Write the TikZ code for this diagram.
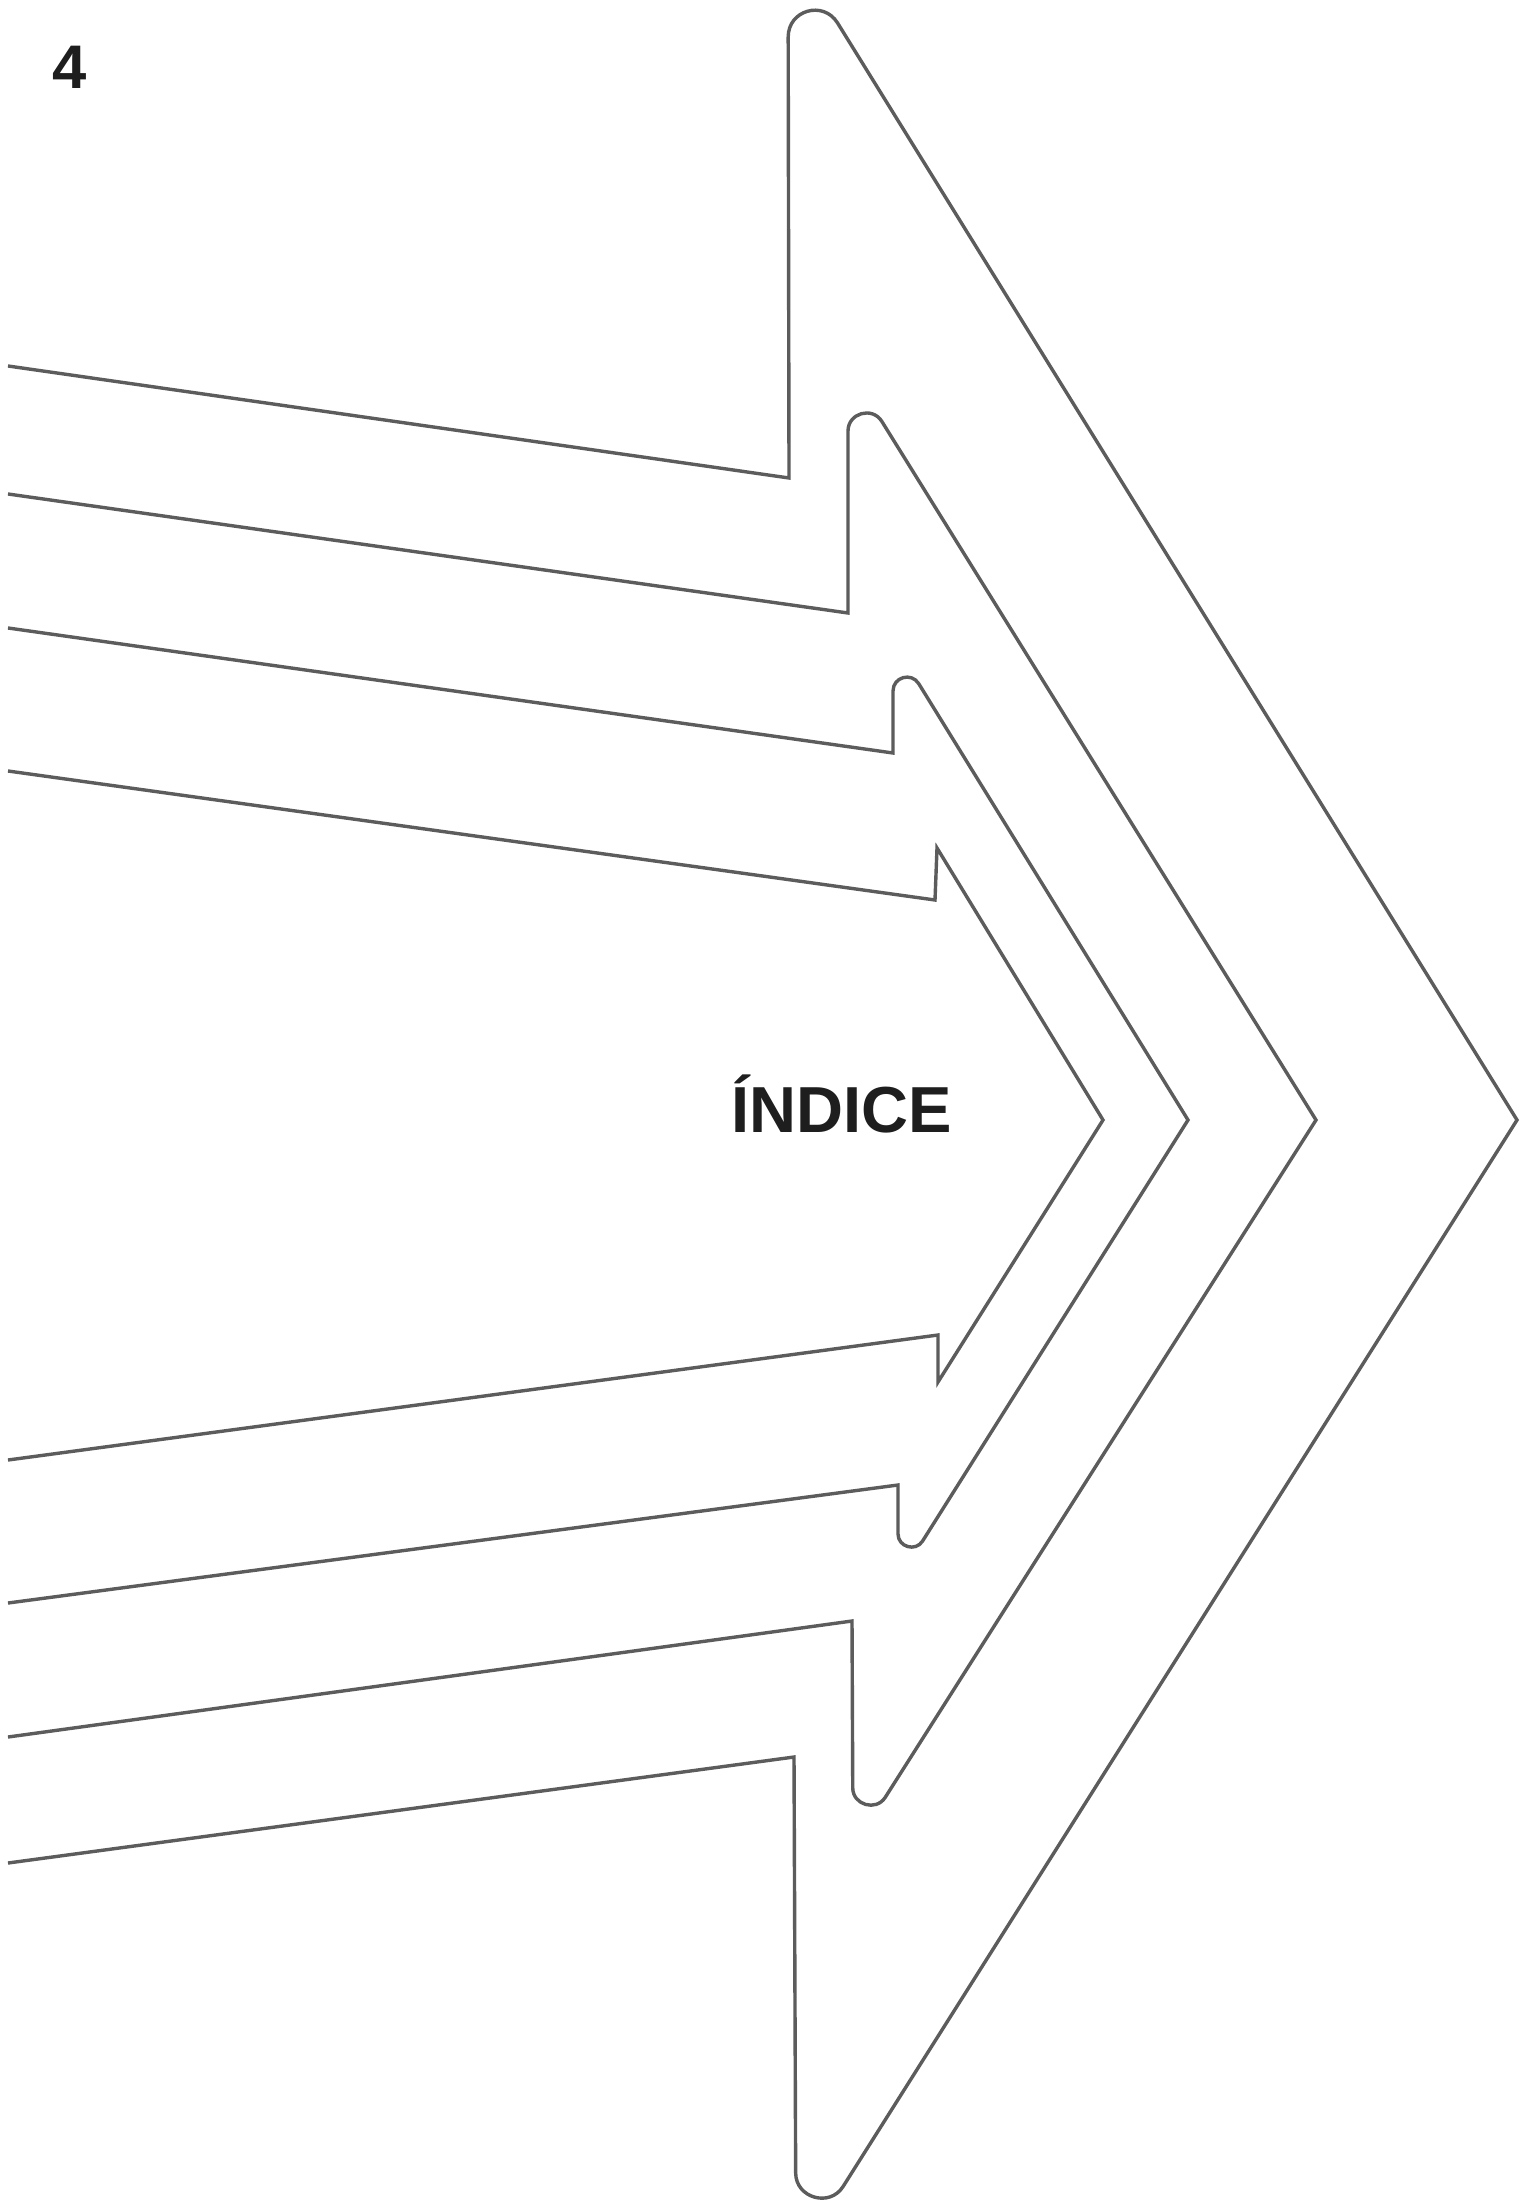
\documentclass[tikz,border=0pt]{standalone}
\usepackage{fontspec}
\setmainfont{Liberation Sans}
\usetikzlibrary{calc}
\definecolor{linegray}{RGB}{92,92,92}
\definecolor{inkblack}{RGB}{30,30,30}
\tikzset{
  arrowline/.style={draw=linegray, line width=0.034cm, line join=miter},
  labeltext/.style={font=\bfseries\fontsize{18.5}{22}\selectfont, text=inkblack, inner sep=0pt, anchor=base},
  pagenum/.style={font=\bfseries\fontsize{17.5}{21}\selectfont, text=inkblack, inner sep=0pt, anchor=base}
}
\begin{document}
\begin{tikzpicture}[x=0.01cm, y=-0.01cm]
\useasboundingbox (0,0) rectangle (1526,2201);
\fill[white] (0,0) rectangle (1526,2201);
% arrow 1 (outermost)
\coordinate (S1) at (8,366);
\coordinate (N1a) at (789,478);
\coordinate (A1a) at (788,-57);
\coordinate (T1) at (1517,1120);
\coordinate (A1b) at (796,2261);
\coordinate (N1b) at (794,1757);
\coordinate (E1) at (8,1863);
% arrow 2
\coordinate (S2) at (8,494);
\coordinate (N2a) at (848,613);
\coordinate (A2a) at (848,367);
\coordinate (T2) at (1316,1120);
\coordinate (A2b) at (853,1848);
\coordinate (N2b) at (852,1621);
\coordinate (E2) at (8,1737);
% arrow 3
\coordinate (S3) at (8,628);
\coordinate (N3a) at (893,753);
\coordinate (A3a) at (893,642);
\coordinate (T3) at (1188,1120);
\coordinate (A3b) at (898,1580);
\coordinate (N3b) at (898,1485);
\coordinate (E3) at (8,1603);
% arrow 4 (innermost)
\coordinate (S4) at (8,771);
\coordinate (N4a) at (935,900);
\coordinate (A4a) at (937,848);
\coordinate (T4) at (1103,1120);
\coordinate (A4b) at (938,1382);
\coordinate (N4b) at (938,1335);
\coordinate (E4) at (8,1460);

\draw[arrowline] (S1) -- (N1a)
  -- ($(A1a)!0.94cm!(N1a)$) .. controls ($(A1a)!0.67cm!(N1a)$) and ($(A1a)!0.67cm!(T1)$) .. ($(A1a)!0.94cm!(T1)$)
  -- (T1)
  -- ($(A1b)!0.88cm!(T1)$) .. controls ($(A1b)!0.63cm!(T1)$) and ($(A1b)!0.63cm!(N1b)$) .. ($(A1b)!0.88cm!(N1b)$)
  -- (N1b) -- (E1);

\draw[arrowline] (S2) -- (N2a)
  -- ($(A2a)!0.64cm!(N2a)$) .. controls ($(A2a)!0.46cm!(N2a)$) and ($(A2a)!0.46cm!(T2)$) .. ($(A2a)!0.64cm!(T2)$)
  -- (T2)
  -- ($(A2b)!0.60cm!(T2)$) .. controls ($(A2b)!0.43cm!(T2)$) and ($(A2b)!0.43cm!(N2b)$) .. ($(A2b)!0.60cm!(N2b)$)
  -- (N2b) -- (E2);

\draw[arrowline] (S3) -- (N3a)
  -- ($(A3a)!0.49cm!(N3a)$) .. controls ($(A3a)!0.35cm!(N3a)$) and ($(A3a)!0.35cm!(T3)$) .. ($(A3a)!0.49cm!(T3)$)
  -- (T3)
  -- ($(A3b)!0.46cm!(T3)$) .. controls ($(A3b)!0.33cm!(T3)$) and ($(A3b)!0.33cm!(N3b)$) .. ($(A3b)!0.46cm!(N3b)$)
  -- (N3b) -- (E3);

\draw[arrowline] (S4) -- (N4a) -- (A4a) -- (T4) -- (A4b) -- (N4b) -- (E4);

\node[pagenum] (num) at (70,89) {4};
\node[labeltext] (title) at (842,1132) {ÍNDICE};
\end{tikzpicture}
\end{document}
